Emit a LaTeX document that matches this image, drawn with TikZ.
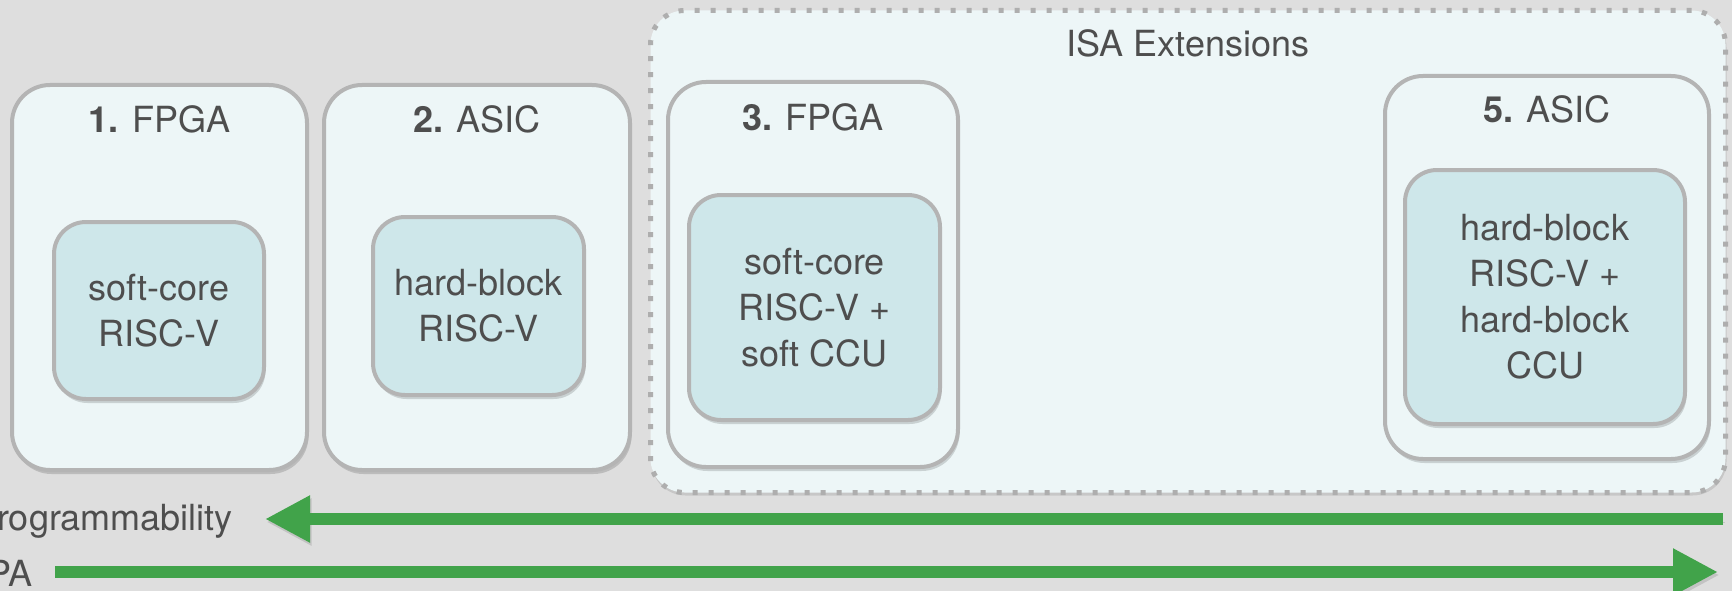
\documentclass[tikz,border=0pt]{standalone}
\usepackage{fontspec}
\setmainfont{TeX Gyre Heros}
\usetikzlibrary{arrows.meta,shadows,calc}

\definecolor{bgc}{RGB}{222,222,222}
\definecolor{boxfill}{RGB}{237,246,247}
\definecolor{corefill}{RGB}{206,231,234}
\definecolor{edge}{RGB}{180,180,180}
\definecolor{dashedge}{RGB}{174,174,174}
\definecolor{ink}{RGB}{78,78,78}
\definecolor{arrowgreen}{RGB}{65,163,74}

\begin{document}
\begin{tikzpicture}[x=1pt,y=-1pt,
  every node/.style={font=\fontsize{36}{46}\selectfont, text=ink},
  softshadow/.style={drop shadow={shadow xshift=1.5pt, shadow yshift=-4pt, opacity=0.15, fill=black}},
  platform/.style={draw=edge, line width=4pt, fill=boxfill, rounded corners=38pt,
    anchor=north west, inner sep=0pt, softshadow},
  core/.style={draw=edge, line width=4pt, fill=corefill, rounded corners=32pt,
    anchor=north west, inner sep=0pt, softshadow},
  corelabel/.style={align=center, inner sep=0pt},
  titlelabel/.style={anchor=base, inner sep=0pt},
  group/.style={draw=dashedge, line width=5pt, dash pattern=on 5pt off 11pt, fill=boxfill,
    rounded corners=34pt, anchor=north west, inner sep=0pt,
    drop shadow={shadow xshift=1pt, shadow yshift=-3pt, opacity=0.10, fill=black}},
  trend/.style={draw=arrowgreen, line width=12pt, -{Triangle[length=45pt,width=44pt]},
    preaction={draw=black, opacity=0.12, transform canvas={shift={(1.5pt,-3pt)}}}}
]
% canvas
\useasboundingbox (0,0) rectangle (1732,591);
\fill[bgc] (0,0) rectangle (1732,591);

% group of designs with ISA extensions
\node[group, minimum width=1075pt, minimum height=482pt] (isa) at (648,8) {};
\node[titlelabel] (isaT) at ($(isa.north)+(0,49)$) {ISA Extensions};

% 1. FPGA
\node[platform, minimum width=295pt, minimum height=385pt] (b1) at (10,83) {};
\node[titlelabel] (b1T) at ($(b1.north)+(0,50)$) {\textbf{1.} FPGA};
\node[core, minimum width=210pt, minimum height=177pt] (c1) at (52,220) {};
\node[corelabel] (c1T) at (c1.center) {soft-core\\RISC-V};

% 2. ASIC
\node[platform, minimum width=306pt, minimum height=385pt] (b2) at (322,83) {};
\node[titlelabel] (b2T) at ($(b2.north)+(0,50)$) {\textbf{2.} ASIC};
\node[core, minimum width=211pt, minimum height=178pt] (c2) at (371,215) {};
\node[corelabel] (c2T) at (c2.center) {hard-block\\RISC-V};

% 3. FPGA
\node[platform, minimum width=290pt, minimum height=385pt] (b3) at (666,80) {};
\node[titlelabel] (b3T) at ($(b3.north)+(0,51)$) {\textbf{3.} FPGA};
\node[core, minimum width=251pt, minimum height=225pt] (c3) at (687,193) {};
\node[corelabel] (c3T) at (c3.center) {soft-core\\RISC-V +\\soft CCU};

% 5. ASIC
\node[platform, minimum width=324pt, minimum height=383pt] (b5) at (1383,74) {};
\node[titlelabel] (b5T) at ($(b5.north)+(0,49)$) {\textbf{5.} ASIC};
\node[core, minimum width=280pt, minimum height=254pt] (c5) at (1403,168) {};
\node[corelabel] (c5T) at (c5.center) {hard-block\\RISC-V +\\hard-block\\CCU};

% trend arrows
\node[anchor=base east, inner sep=0pt] (prog) at (233,530) {Programmability};
\coordinate (progFrom) at (1723,519);
\coordinate (progTo) at (265,519);
\draw[trend] (progFrom) -- (progTo);

\node[anchor=base east, inner sep=0pt] (ppa) at (33,586) {PPA};
\coordinate (ppaFrom) at (55,572);
\coordinate (ppaTo) at (1718,572);
\draw[trend] (ppaFrom) -- (ppaTo);
\end{tikzpicture}
\end{document}
